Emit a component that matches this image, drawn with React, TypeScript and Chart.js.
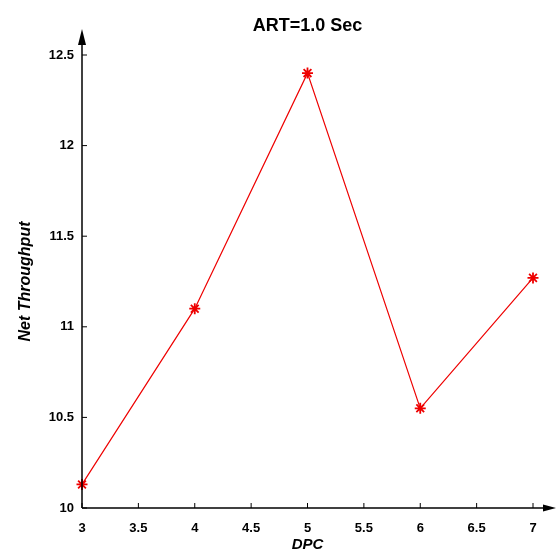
import React, { useEffect, useRef } from "react";
import { Chart, registerables } from "chart.js";

Chart.register(...registerables);

const titleText = "ART=1.0 Sec";
const xLabel = "DPC";
const yLabel = "Net Throughput";
const dpc = [3, 4, 5, 6, 7];
const throughput = [10.13, 11.1, 12.4, 10.55, 11.27];
const xTicks = [3, 3.5, 4, 4.5, 5, 5.5, 6, 6.5, 7];
const yTicks = [10, 10.5, 11, 11.5, 12, 12.5];

const axesPlugin = {
  id: "arrowAxes",
  afterDatasetsDraw(chart: any) {
    const { ctx, chartArea, scales } = chart;
    const x0 = chartArea.left;
    const y0 = chartArea.bottom;
    ctx.save();
    ctx.strokeStyle = "#000";
    ctx.fillStyle = "#000";
    ctx.lineWidth = 1.5;
    // y axis
    ctx.beginPath();
    ctx.moveTo(x0, y0);
    ctx.lineTo(x0, chartArea.top - 22);
    ctx.stroke();
    ctx.beginPath();
    ctx.moveTo(x0, chartArea.top - 26);
    ctx.lineTo(x0 - 4, chartArea.top - 10);
    ctx.lineTo(x0 + 4, chartArea.top - 10);
    ctx.closePath();
    ctx.fill();
    // x axis
    ctx.beginPath();
    ctx.moveTo(x0, y0);
    ctx.lineTo(chartArea.right + 18, y0);
    ctx.stroke();
    ctx.beginPath();
    ctx.moveTo(chartArea.right + 23, y0);
    ctx.lineTo(chartArea.right + 10, y0 - 3.5);
    ctx.lineTo(chartArea.right + 10, y0 + 3.5);
    ctx.closePath();
    ctx.fill();
    // inward ticks
    ctx.lineWidth = 1;
    xTicks.forEach((v) => {
      const px = scales.x.getPixelForValue(v);
      ctx.beginPath();
      ctx.moveTo(px, y0);
      ctx.lineTo(px, y0 - 5);
      ctx.stroke();
    });
    yTicks.forEach((v) => {
      const py = scales.y.getPixelForValue(v);
      ctx.beginPath();
      ctx.moveTo(x0, py);
      ctx.lineTo(x0 + 5, py);
      ctx.stroke();
    });
    ctx.restore();
  },
};

export default function App() {
  const ref = useRef<HTMLCanvasElement>(null);
  useEffect(() => {
    if (!ref.current) return;
    const chart = new Chart(ref.current, {
      type: "line",
      data: {
        datasets: [
          {
            data: dpc.map((x, i) => ({ x, y: throughput[i] })),
            borderColor: "#ee0000",
            backgroundColor: "#ee0000",
            borderWidth: 1.2,
            pointStyle: "star",
            pointRadius: 5.5,
            pointBorderWidth: 1.8,
            pointBorderColor: "#ee0000",
            tension: 0,
            clip: false as any,
          },
        ],
      },
      options: {
        animation: false,
        responsive: false,
        maintainAspectRatio: false,
        layout: { padding: { left: 0, right: 24, top: 0, bottom: 0 } },
        plugins: {
          legend: { display: false },
          tooltip: { enabled: false },
          title: {
            display: true,
            text: titleText,
            fullSize: false,
            color: "#000",
            font: { family: "'Liberation Sans', Arial, sans-serif", size: 18, weight: "bold" },
            padding: { top: 15, bottom: 18.4 },
          },
        },
        scales: {
          x: {
            type: "linear",
            min: 3,
            max: 7,
            afterFit: (s: any) => {
              s.height = 46;
            },
            afterBuildTicks: (s: any) => {
              s.ticks = xTicks.map((v) => ({ value: v }));
            },
            grid: { display: false },
            border: { display: false },
            ticks: {
              color: "#000",
              padding: 5,
              maxRotation: 0,
              autoSkip: false,
              font: { family: "'Liberation Sans', Arial, sans-serif", size: 13, weight: "bold" },
              callback: (v: any) => String(v),
            },
            title: {
              display: true,
              text: xLabel,
              color: "#000",
              padding: { top: 0, bottom: 0 },
              font: { family: "'Liberation Sans', Arial, sans-serif", size: 15, weight: "bold", style: "italic" },
            },
          },
          y: {
            type: "linear",
            min: 10,
            max: 12.5,
            afterFit: (s: any) => {
              s.width = 82;
            },
            afterBuildTicks: (s: any) => {
              s.ticks = yTicks.map((v) => ({ value: v }));
            },
            grid: { display: false },
            border: { display: false },
            ticks: {
              color: "#000",
              padding: 0,
              autoSkip: false,
              font: { family: "'Liberation Sans', Arial, sans-serif", size: 13, weight: "bold" },
              callback: (v: any) => String(v),
            },
            title: {
              display: true,
              text: yLabel,
              color: "#000",
              padding: { top: 16, bottom: 0 },
              font: { family: "'Liberation Sans', Arial, sans-serif", size: 16, weight: "bold", style: "italic" },
            },
          },
        },
      },
      plugins: [axesPlugin],
    });
    return () => chart.destroy();
  }, []);
  return (
    <div style={{ position: "fixed", left: 0, top: 0, width: 557, height: 554, background: "#fff" }}>
      <canvas ref={ref} width={557} height={554} style={{ width: 557, height: 554 }} />
    </div>
  );
}
